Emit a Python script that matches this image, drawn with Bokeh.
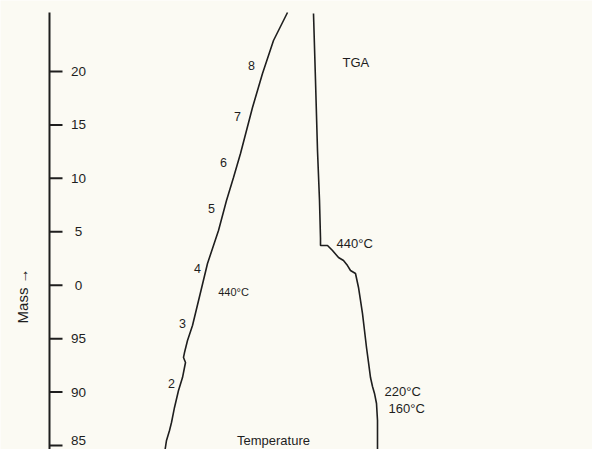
from bokeh.plotting import figure
from bokeh.models import Range1d
from bokeh.core.properties import value
from bokeh.embed import file_html
from bokeh.resources import INLINE

# ---- data ----
# mass axis (continuous scale; 100 is printed as "0", 105 as "5", ...)
mass_ticks = [85, 90, 95, 100, 105, 110, 115, 120]
mass_tick_labels = ["85", "90", "95", "0", "5", "10", "15", "20"]

# left curve (temperature trace, numbered stages)
temp_x = [164, 166, 169, 171, 174, 178, 182, 184, 185, 183, 184, 187, 192,
          200, 207, 212, 218, 226, 233, 240, 246, 252, 257, 262, 267, 273, 280, 287]
temp_m = [84.25, 85.47, 86.40, 87.15, 88.56, 90.15, 91.36, 92.30, 92.77, 93.24,
          93.70, 94.83, 96.23, 99.32, 102.03, 103.44, 105.12, 107.93, 110.08,
          112.33, 114.48, 116.63, 118.22, 119.81, 121.22, 122.90, 124.21, 125.52]

# right curve (TGA)
tga_x = [313, 315, 317, 319, 320, 320, 327, 332, 338, 343, 347, 350, 355, 358,
         360, 362, 364, 366, 368, 370, 372, 374, 376, 377, 377, 377]
tga_m = [125.43, 119.16, 112.61, 107.93, 104.37, 103.72, 103.72, 103.25, 102.59,
         102.31, 101.84, 101.38, 101.10, 99.79, 98.57, 97.35, 95.76, 94.17,
         92.77, 91.36, 90.52, 89.87, 88.93, 87.34, 85.47, 83.50]

stage_labels = ["2", "3", "4", "5", "6", "7", "8"]
stage_x = [171, 182, 197, 211, 223, 237, 251]
stage_m = [90.80, 96.42, 101.56, 107.18, 111.48, 115.79, 120.56]

temp_notes = ["440°C", "220°C", "160°C"]
temp_note_x = [336, 384, 388]
temp_note_m = [103.90, 90.05, 88.46]

BG = "#fbfaf3"
INK = "#1e1e1e"
FONT = value("Liberation Sans")

p = figure(width=592, height=449, output_backend="svg", toolbar_location=None,
           x_range=Range1d(0, 592), y_range=Range1d(84.626, 126.644),
           min_border=0, background_fill_color=BG, border_fill_color=BG)
p.axis.visible = False
p.grid.visible = False
p.outline_line_color = None

# vertical mass axis
axis_x = 49
p.segment(x0=[axis_x], y0=[125.52], x1=[axis_x], y1=[83.0],
          line_color=INK, line_width=2)
p.segment(x0=[axis_x] * len(mass_ticks), y0=mass_ticks,
          x1=[axis_x + 13] * len(mass_ticks), y1=mass_ticks,
          line_color=INK, line_width=2)
# lowest label nudged up so it stays inside the page
label_offsets = [-5, 0, 0, 0, 0, 0, 0, 0]
p.text(x=[78] * len(mass_ticks), y=mass_ticks, text=mass_tick_labels,
       y_offset=label_offsets,
       text_font=FONT, text_font_size="13.5px", text_color=INK,
       text_align="center", text_baseline="middle")
p.text(x=[22], y=[99.0], text=["Mass →"], angle=1.5708,
       text_font=FONT, text_font_size="15px", text_color=INK,
       text_align="center", text_baseline="middle")

# curves
p.line(temp_x, temp_m, line_color=INK, line_width=1.6)
p.line(tga_x, tga_m, line_color=INK, line_width=1.6)

# labels
p.text(x=stage_x, y=stage_m, text=stage_labels, text_font=FONT,
       text_font_size="12.5px", text_color=INK,
       text_align="center", text_baseline="middle")
p.text(x=[233], y=[99.32], text=["440°C"], text_font=FONT,
       text_font_size="11px", text_color=INK,
       text_align="center", text_baseline="middle")
p.text(x=temp_note_x, y=temp_note_m, text=temp_notes, text_font=FONT,
       text_font_size="13px", text_color=INK,
       text_align="left", text_baseline="middle")
p.text(x=[342], y=[120.84], text=["TGA"], text_font=FONT,
       text_font_size="13px", text_color=INK,
       text_align="left", text_baseline="middle")
p.text(x=[273], y=[85.45], text=["Temperature"], text_font=FONT,
       text_font_size="13px", text_color=INK,
       text_align="center", text_baseline="middle")

open("out.html", "w").write(file_html(p, INLINE))
